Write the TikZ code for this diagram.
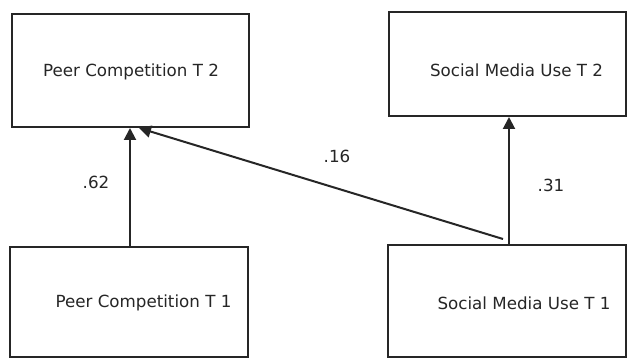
\documentclass[tikz,border=0pt]{standalone}
\usepackage{fontspec}
\setmainfont{DejaVu Sans}
\usetikzlibrary{arrows.meta}
\begin{document}
\begin{tikzpicture}[x=1pt,y=1pt,
  boxline/.style={draw=black!85, line width=2pt},
  lbl/.style={font=\fontsize{16.7}{20}\selectfont, text=black!85, inner sep=0pt, anchor=base},
  coef/.style={font=\fontsize{16.7}{20}\selectfont, text=black!85, inner sep=0pt},
  conn/.style={draw=black!85, line width=2pt, -{Triangle[width=12pt,length=12pt]}}]
\useasboundingbox (0,0) rectangle (627,-358);
\fill[white] (0,0) rectangle (627,-358);
% boxes
\node[boxline, minimum width=237pt, minimum height=113pt, inner sep=0pt] (pct2) at (130.5,-70.5) {};
\node[boxline, minimum width=237pt, minimum height=104pt, inner sep=0pt] (smt2) at (507.5,-64) {};
\node[boxline, minimum width=238pt, minimum height=110pt, inner sep=0pt] (pct1) at (129,-302) {};
\node[boxline, minimum width=238pt, minimum height=112pt, inner sep=0pt] (smt1) at (507,-301) {};
% texts
\node[lbl] (tpct2) at (131,-77) {Peer Competition T 2};
\node[lbl] (tsmt2) at (516.5,-77) {Social Media Use T 2};
\node[lbl] (tpct1) at (143.5,-308) {Peer Competition T 1};
\node[lbl] (tsmt1) at (524,-310) {Social Media Use T 1};
% connector end points
\coordinate (a1) at (pct1.north -| 130,0);
\coordinate (a2) at (pct2.south -| 130,0);
\coordinate (b1) at (503,-239);
\coordinate (b2) at (139,-128);
\coordinate (c1) at (smt1.north -| 509,0);
\coordinate (c2) at (smt2.south -| 509,0);
\draw[conn] (a1) -- (a2);
\draw[conn] (b1) -- (b2);
\draw[conn] (c1) -- (c2);
% coefficients
\node[coef] (k62) at (96,-182) {.62};
\node[coef] (k16) at (337,-156) {.16};
\node[coef] (k31) at (551,-185) {.31};
\end{tikzpicture}
\end{document}
